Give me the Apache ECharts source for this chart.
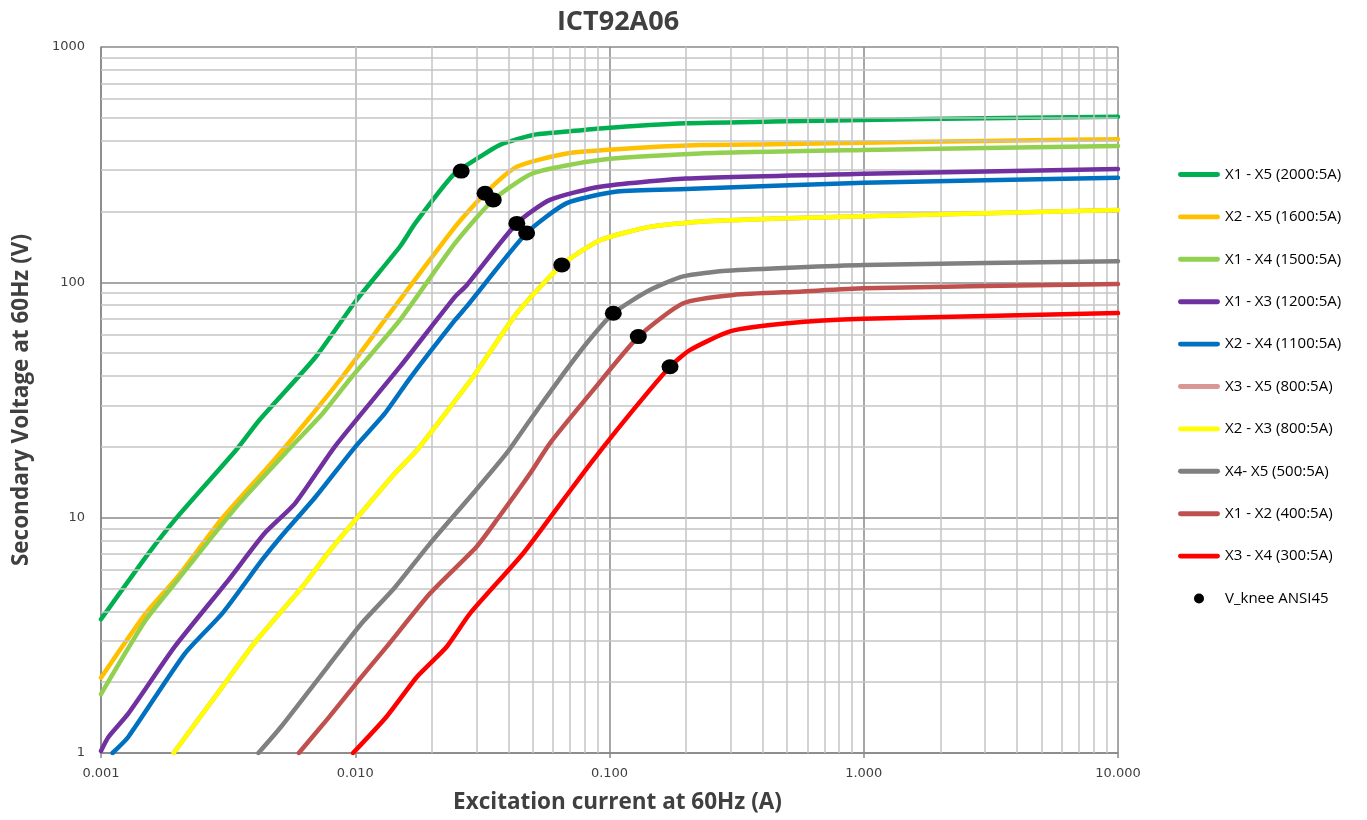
<!DOCTYPE html>
<html>
<head>
<meta charset="utf-8">
<script src="https://cdn.jsdelivr.net/npm/echarts@6/dist/echarts.min.js"></script>
<style>html,body{margin:0;padding:0;background:#fff;}#c{width:1367px;height:820px;}</style>
</head>
<body>
<div id="c"></div>
<script>
// ---- data (current A, voltage V) ----
const seriesNames = [
  'X1 - X5 (2000:5A)', 'X2 - X5 (1600:5A)', 'X1 - X4 (1500:5A)', 'X1 - X3 (1200:5A)',
  'X2 - X4 (1100:5A)', 'X3 - X5 (800:5A)', 'X2 - X3 (800:5A)', 'X4- X5 (500:5A)',
  'X1 - X2 (400:5A)', 'X3 - X4 (300:5A)'
];
const seriesColors = ['#00b050','#ffc000','#92d050','#7030a0','#0070c0','#d99694','#ffff00','#808080','#c0504d','#ff0000'];

const x1x5 = [[0.001,3.7],[0.0015,6.8],[0.002,10.1],[0.0034,19.4],[0.0042,26],[0.007,48.3],[0.01,82.7],[0.015,142],[0.0172,178],[0.0243,286],[0.031,342],[0.0371,384],[0.05,423],[0.068,437],[0.0918,451],[0.2,474],[0.44,482],[1,490],[3,498],[10,505]];
const x2x5 = [[0.001,2.09],[0.0015,3.92],[0.002,5.6],[0.003,9.94],[0.0048,17.6],[0.0065,26],[0.0089,39.7],[0.0143,78.8],[0.0247,172],[0.0324,239],[0.0432,310],[0.0679,353],[0.107,368],[0.227,383],[0.44,386],[1,392],[3,399],[10,406]];
const x1x4 = [[0.001,1.78],[0.0015,3.67],[0.002,5.43],[0.0035,11.5],[0.0056,20],[0.0074,27.5],[0.0097,39.7],[0.015,69.2],[0.0247,146.6],[0.0349,224],[0.0501,291],[0.0918,331],[0.227,353],[1,365],[10,380]];
const x1x3 = [[0.001,1.02],[0.00107,1.17],[0.00128,1.47],[0.00195,2.83],[0.00317,5.43],[0.0044,8.58],[0.0058,11.5],[0.0083,20],[0.015,43.8],[0.0247,86.9],[0.0274,97],[0.0432,178],[0.0583,224],[0.0918,255],[0.2,276],[1,289],[10,303]];
const x2x4 = [[0.00111,1],[0.00128,1.17],[0.00214,2.65],[0.003,3.92],[0.0043,6.61],[0.0051,8.3],[0.007,12.3],[0.01,20],[0.0131,27.8],[0.0164,39.1],[0.0247,69.2],[0.0274,78.8],[0.0472,162],[0.0679,217],[0.107,243],[0.2,249],[1,265],[10,278]];
const x3x5 = [[0.00193,1],[0.003,1.91],[0.004,2.92],[0.0062,5.09],[0.0078,7.06],[0.01,9.77],[0.0143,15.4],[0.0175,19.4],[0.0216,26],[0.0291,39.7],[0.0432,73.9],[0.0649,118.5],[0.0918,151],[0.144,172],[0.227,181],[0.5,187],[1,191],[10,203]];
const x2x3 = [[0.00193,1],[0.003,1.91],[0.004,2.92],[0.0062,5.09],[0.0078,7.06],[0.01,9.77],[0.0143,15.4],[0.0175,19.4],[0.0216,26],[0.0291,39.7],[0.0432,73.9],[0.0649,118.5],[0.0918,151],[0.144,172],[0.227,181],[0.5,187],[1,191],[10,203]];
const x4x5 = [[0.00416,1],[0.0051,1.29],[0.0078,2.33],[0.0106,3.56],[0.0142,5.0],[0.0197,7.78],[0.0291,12.7],[0.0394,18.8],[0.0487,26],[0.0639,39.1],[0.0813,55.1],[0.1035,73.9],[0.144,92.8],[0.195,106],[0.289,112],[1,118.5],[10,123]];
const x1x2 = [[0.006,1],[0.0078,1.4],[0.0106,2.11],[0.0133,2.83],[0.0197,4.77],[0.03,7.53],[0.036,9.77],[0.0487,15.4],[0.0583,20.7],[0.0864,34.9],[0.13,58.8],[0.195,81.5],[0.307,88.4],[0.561,91.3],[1,94.3],[10,98.4]];
const x3x4 = [[0.0098,1],[0.0133,1.43],[0.0175,2.11],[0.0229,2.83],[0.0283,3.92],[0.0458,7.06],[0.0658,11.9],[0.0864,17.6],[0.124,28.7],[0.173,43.8],[0.207,51.5],[0.3,62],[0.5,67],[1,70],[10,74]];
const curves = [x1x5, x2x5, x1x4, x1x3, x2x4, x3x5, x2x3, x4x5, x1x2, x3x4];

const kneeName = 'V_knee ANSI45';
const kneeI = [0.0261, 0.0324, 0.0349, 0.0432, 0.0472, 0.0649, 0.1035, 0.1298, 0.173];
const kneeV = [297, 239, 224, 178, 162, 118.5, 73.9, 58.8, 43.8];

const xTickLabels = ['0.001', '0.010', '0.100', '1.000', '10.000'];
const yTickLabels = ['1', '10', '100', '1000'];
const minorMultipliers = [2, 3, 4, 5, 6, 7, 8, 9];
const xDecades = [0.001, 0.01, 0.1, 1];
const yDecades = [1, 10, 100];

// minor grid lines (axis structure)
const minorLines = [];
xDecades.forEach(d => minorMultipliers.forEach(m => minorLines.push({ xAxis: +(d * m).toPrecision(3) })));
yDecades.forEach(d => minorMultipliers.forEach(m => minorLines.push({ yAxis: d * m })));

const lineIcon = 'path://M2,0 L40,0 A2.5,2.5 0 0 1 40,5 L2,5 A2.5,2.5 0 0 1 2,0 Z';

const series = [{
  type: 'line', name: '_grid', data: [], z: 1, silent: true,
  markLine: {
    silent: true, symbol: ['none', 'none'], animation: false,
    label: { show: false },
    lineStyle: { color: '#c4c4c4', type: 'solid', width: 1.5 },
    emphasis: { disabled: true },
    data: minorLines
  }
}];
curves.forEach((c, i) => {
  series.push({
    type: 'line', name: seriesNames[i], data: c, showSymbol: false, symbol: 'none',
    smooth: 0.2, z: 3 + i,
    lineStyle: { color: seriesColors[i], width: 4.5, cap: 'round', join: 'round' },
    itemStyle: { color: seriesColors[i] }
  });
});
series.push({
  type: 'scatter', name: kneeName, z: 20,
  data: kneeI.map((v, i) => [v, kneeV[i]]),
  symbol: 'circle', symbolSize: [17, 15],
  itemStyle: { color: '#000', opacity: 1 }
});

const legendData = seriesNames.map(n => ({ name: n, icon: lineIcon }));
legendData.push({ name: kneeName, icon: 'circle' });

const chart = echarts.init(document.getElementById('c'), null, { renderer: 'canvas' });
chart.setOption({
  animation: false,
  backgroundColor: '#fff',
  title: {
    text: 'ICT92A06', left: 613, top: 4, textAlign: 'center',
    textStyle: { fontFamily: 'Open Sans', fontWeight: 'bold', fontSize: 27, color: '#404040' }
  },
  grid: { left: 101, right: 249, top: 47, bottom: 67, containLabel: false },
  legend: {
    orient: 'vertical', left: 1173, top: 162,
    itemWidth: 42, itemHeight: 10, itemGap: 27.4,
    data: legendData,
    itemStyle: { opacity: 1 },
    textStyle: { fontFamily: 'Open Sans', fontSize: 15, color: '#000' }
  },
  xAxis: {
    type: 'log', logBase: 10, min: 0.001, max: 10, splitNumber: 4,
    name: 'Excitation current at 60Hz (A)', nameLocation: 'middle', nameGap: 38,
    nameTextStyle: { fontFamily: 'Open Sans', fontWeight: 'bold', fontSize: 22.5, color: '#404040', padding: [0, 0, 0, 16] },
    axisLine: { show: true, lineStyle: { color: '#868686', width: 1.5 } },
    axisTick: { show: true, length: 5, inside: false, lineStyle: { color: '#868686', width: 1.5 } },
    axisLabel: {
      margin: 14, fontFamily: 'DejaVu Sans', fontSize: 13, color: '#404040',
      formatter: v => { const k = Math.round(Math.log10(v)) + 3; return xTickLabels[k] !== undefined ? xTickLabels[k] : ''; }
    },
    splitLine: { show: true, lineStyle: { color: '#8a8a8a', width: 1.5 } },
    minorTick: { show: false }, minorSplitLine: { show: false }
  },
  yAxis: {
    type: 'log', logBase: 10, min: 1, max: 1000, splitNumber: 3,
    name: 'Secondary Voltage at 60Hz (V)', nameLocation: 'middle', nameGap: 68, nameRotate: 90,
    nameTextStyle: { fontFamily: 'Open Sans', fontWeight: 'bold', fontSize: 22.5, color: '#404040' },
    axisLine: { show: true, lineStyle: { color: '#868686', width: 1.5 } },
    axisTick: { show: false },
    axisLabel: {
      margin: 16, fontFamily: 'DejaVu Sans', fontSize: 13, color: '#404040',
      formatter: v => { const k = Math.round(Math.log10(v)); return yTickLabels[k] !== undefined ? yTickLabels[k] : ''; }
    },
    splitLine: { show: true, lineStyle: { color: '#8a8a8a', width: 1.5 } },
    minorTick: { show: false }, minorSplitLine: { show: false }
  },
  series: series
});
</script>
</body>
</html>
